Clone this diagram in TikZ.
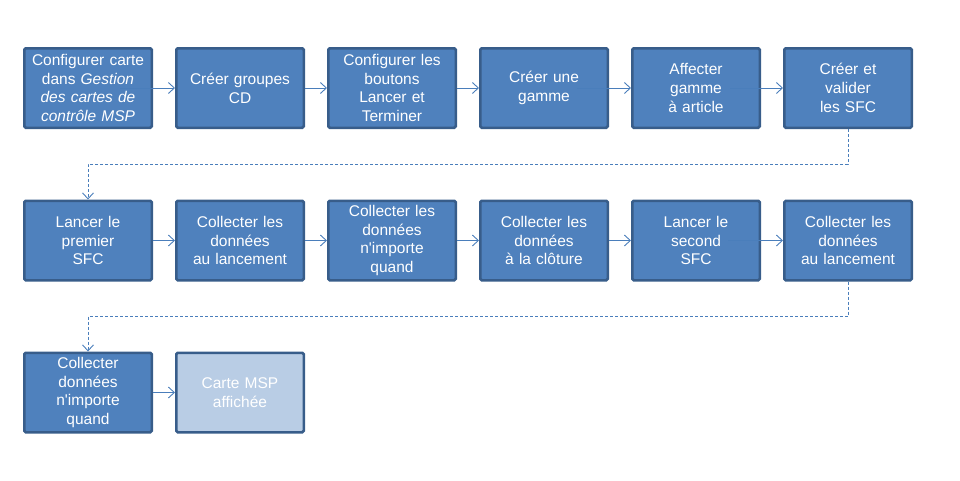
\documentclass[tikz,border=0pt]{standalone}
\usepackage{fontspec}
\setmainfont{Liberation Sans}[Ligatures=TeXOff]
\usetikzlibrary{arrows.meta}
\definecolor{boxfill}{HTML}{4F81BD}
\definecolor{boxedge}{HTML}{385D8A}
\definecolor{lightfill}{HTML}{B9CDE5}
\definecolor{linec}{HTML}{4A7EBB}
\begin{document}
\begin{tikzpicture}[x=1pt,y=-1pt,
 stepbox/.style={draw=boxedge, fill=boxfill, line width=2.5pt, rounded corners=1.5pt,
   minimum width=127.5pt, minimum height=79.5pt, text width=126pt, align=center,
   text=white, font=\fontsize{15.5}{18.8}\selectfont, inner sep=0pt},
 donebox/.style={stepbox, fill=lightfill},
 conn/.style={draw=linec, line width=0.9pt, -{Straight Barb[length=6pt,width=11pt]}},
 dconn/.style={conn, dash pattern=on 3pt off 2pt}]
\useasboundingbox (0,0) rectangle (960,480);
% row 1
\node[stepbox] (b1) at (88,88) {Configurer carte\\dans \textit{Gestion}\\\textit{des cartes de}\\\textit{contrôle MSP}};
\node[stepbox] (b2) at (240,88) {Créer groupes\\CD};
\node[stepbox] (b3) at (392,88) {Configurer les\\boutons\\Lancer et\\Terminer};
\node[stepbox] (b4) at (544,88) {Créer une\\gamme};
\node[stepbox] (b5) at (696,88) {Affecter\\gamme\\à article};
\node[stepbox] (b6) at (848,88) {Créer et\\valider\\les SFC};
% row 2
\node[stepbox] (b7) at (88,240.5) {Lancer le\\premier\\SFC};
\node[stepbox] (b8) at (240,240.5) {Collecter les\\données\\au lancement};
\node[stepbox] (b9) at (392,240.5) {Collecter les\\données\\n'importe\\quand};
\node[stepbox] (b10) at (544,240.5) {Collecter les\\données\\à la clôture};
\node[stepbox] (b11) at (696,240.5) {Lancer le\\second\\SFC};
\node[stepbox] (b12) at (848,240.5) {Collecter les\\données\\au lancement};
% row 3
\node[stepbox] (b13) at (88,392.5) {Collecter\\données\\n'importe\\quand};
\node[donebox] (b14) at (240,392.5) {Carte MSP\\affichée};
% connectors
\draw[conn] ([xshift=32pt]b1.center) -- (b2);
\draw[conn] (b2) -- (b3);
\draw[conn] (b3) -- (b4);
\draw[conn] ([xshift=33pt]b4.center) -- (b5);
\draw[conn] ([xshift=34pt]b5.center) -- (b6);
\coordinate (t1) at (848,164);
\coordinate (t2) at (88,164);
\draw[dconn] (b6.south) -- (t1) -- (t2) -- (b7.north);
\draw[conn] (b7) -- (b8);
\draw[conn] (b8) -- (b9);
\draw[conn] (b9) -- (b10);
\draw[conn] (b10) -- (b11);
\draw[conn] ([xshift=32pt]b11.center) -- (b12);
\coordinate (t3) at (848,316);
\coordinate (t4) at (88,316);
\draw[dconn] (b12.south) -- (t3) -- (t4) -- (b13.north);
\draw[conn] (b13) -- (b14);
\end{tikzpicture}
\end{document}
